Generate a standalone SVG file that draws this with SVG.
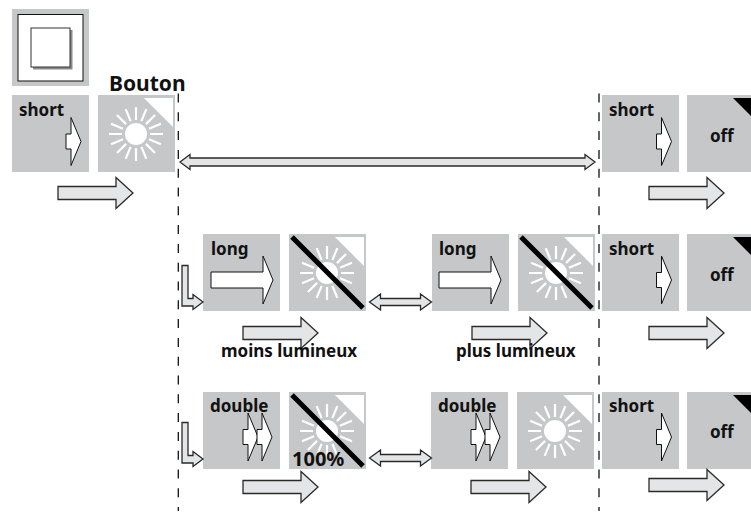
<svg xmlns="http://www.w3.org/2000/svg" width="751" height="513" viewBox="0 0 751 513">
<style>
.tile{fill:#c6c7c9}
.t{font-family:"Noto Sans","DejaVu Sans",sans-serif;font-weight:700;font-size:17px;fill:#111}
.go{fill:#e4e5e6;stroke:#2a2a2a;stroke-width:1.3}
.wa{fill:#fff;stroke:#111;stroke-width:1}
.dash{fill:none;stroke:#111;stroke-width:1.3;stroke-dasharray:9 9.8}
.ray{stroke:#fff;stroke-width:2.2;fill:none}
</style>
<defs>
<rect id="tile" class="tile" width="77" height="77"/>
<g id="sun">
<polygon points="46,3 75,3 75,32" fill="#fff"/>
<circle cx="38" cy="39" r="11" fill="#fff"/>
<g class="ray" transform="translate(38 39)">
<path id="r" d="M14,0H27M-14,0H-27M0,14V27M0,-14V-27"/>
<use href="#r" transform="rotate(22.5)"/>
<use href="#r" transform="rotate(45)"/>
<use href="#r" transform="rotate(67.5)"/>
</g>
</g>
<path id="strike" d="M3,3L74,74" stroke="#000" stroke-width="5" fill="none"/>
<polygon id="off-c" points="46,3 75,3 75,32" fill="#000"/>
<polygon id="go" class="go" points="0,-6.5 58,-6.5 58,-15.5 75,0 58,15.5 58,6.5 0,6.5"/>
<polygon id="ws" class="wa" points="0,-7.5 5,-7.5 5,-24 15,0 5,24 5,7.5 0,7.5"/>
<polygon id="wl" class="wa" points="0,-8 52,-8 52,-24 62,0 52,24 52,8 0,8"/>
<polygon id="dbl" class="go" points="0,0 11,-8 11,-3.5 51,-3.5 51,-8 62,0 51,8 51,3.5 11,3.5 11,8"/>
<polygon id="lar" class="go" points="0,-36.5 6,-36.5 6,-3.5 11,-3.5 11,-7.5 21,0 11,7.5 11,4 0,4"/>
</defs>

<g id="node-button">
<rect class="tile" x="12" y="9" width="77" height="77"/>
<rect x="18" y="14.5" width="65" height="66.5" fill="#fff" stroke="#111" stroke-width="1"/>
<rect x="33" y="30" width="39.5" height="39.5" fill="#8a8b8d"/>
<rect x="31" y="28" width="39" height="39" fill="#fff" stroke="#333" stroke-width="1"/>
</g>
<text id="label-bouton" class="t" x="109" y="91" style="font-size:21px">Bouton</text>

<g id="node-short-1"><use href="#tile" x="12" y="95"/><text class="t" x="19" y="116">short</text><use href="#ws" x="66" y="141.5"/></g>
<g id="node-sun-1"><use href="#tile" x="98" y="95"/><use href="#sun" x="98" y="95"/></g>
<g id="node-short-2"><use href="#tile" x="602" y="95"/><text class="t" x="609" y="116">short</text><use href="#ws" x="656.5" y="141.5"/></g>
<g id="node-off-1"><use href="#tile" x="687" y="95"/><use href="#off-c" x="687" y="95"/><text class="t" x="710" y="142">off</text></g>

<g id="node-long-1"><use href="#tile" x="203" y="234"/><text class="t" x="211" y="255">long</text><use href="#wl" x="211" y="280"/></g>
<g id="node-sun-2"><use href="#tile" x="289" y="234"/><use href="#sun" x="289" y="234"/><use href="#strike" x="289" y="234"/></g>
<g id="node-long-2"><use href="#tile" x="432" y="234"/><text class="t" x="439" y="255">long</text><use href="#wl" x="439" y="280"/></g>
<g id="node-sun-3"><use href="#tile" x="518" y="234"/><use href="#sun" x="518" y="234"/><use href="#strike" x="518" y="234"/></g>
<g id="node-short-3"><use href="#tile" x="602" y="234"/><text class="t" x="609" y="255">short</text><use href="#ws" x="656.5" y="280"/></g>
<g id="node-off-2"><use href="#tile" x="687" y="234"/><use href="#off-c" x="687" y="234"/><text class="t" x="710" y="281">off</text></g>

<g id="node-double-1"><use href="#tile" x="203" y="392"/><text class="t" x="210" y="412">double</text><use href="#ws" x="243" y="437"/><use href="#ws" x="257" y="437"/></g>
<g id="node-sun-4"><use href="#tile" x="289" y="392"/><use href="#sun" x="289" y="392"/><use href="#strike" x="289" y="392"/><text class="t" x="292" y="466" style="font-size:20px">100%</text></g>
<g id="node-double-2"><use href="#tile" x="431" y="392"/><text class="t" x="438" y="412">double</text><use href="#ws" x="471" y="437"/><use href="#ws" x="485" y="437"/></g>
<g id="node-sun-5"><use href="#tile" x="517" y="392"/><use href="#sun" x="517" y="392"/></g>
<g id="node-short-4"><use href="#tile" x="602" y="392"/><text class="t" x="609" y="412">short</text><use href="#ws" x="656.5" y="437"/></g>
<g id="node-off-3"><use href="#tile" x="687" y="392"/><use href="#off-c" x="687" y="392"/><text class="t" x="710" y="438">off</text></g>

<g id="connectors">
<path class="dash" d="M178.3,93.5V511"/>
<path class="dash" d="M599,93.5V511"/>
<polygon class="go" points="180,162 190,154.5 190,158 585,158 585,154.5 595,162 585,169.5 585,166 190,166 190,169.5"/>
<use href="#dbl" x="369.5" y="302"/>
<use href="#dbl" x="369.5" y="458"/>
<use href="#lar" x="182" y="302"/>
<use href="#lar" x="182" y="459"/>
<use href="#go" x="58" y="193"/>
<use href="#go" x="649" y="193"/>
<use href="#go" x="243" y="333"/>
<use href="#go" x="472" y="333"/>
<use href="#go" x="649" y="333"/>
<use href="#go" x="243" y="487"/>
<use href="#go" x="471" y="487"/>
<use href="#go" x="649" y="485"/>
</g>
<text id="label-moins" class="t" x="221" y="357">moins lumineux</text>
<text id="label-plus" class="t" x="456" y="357">plus lumineux</text>
</svg>
